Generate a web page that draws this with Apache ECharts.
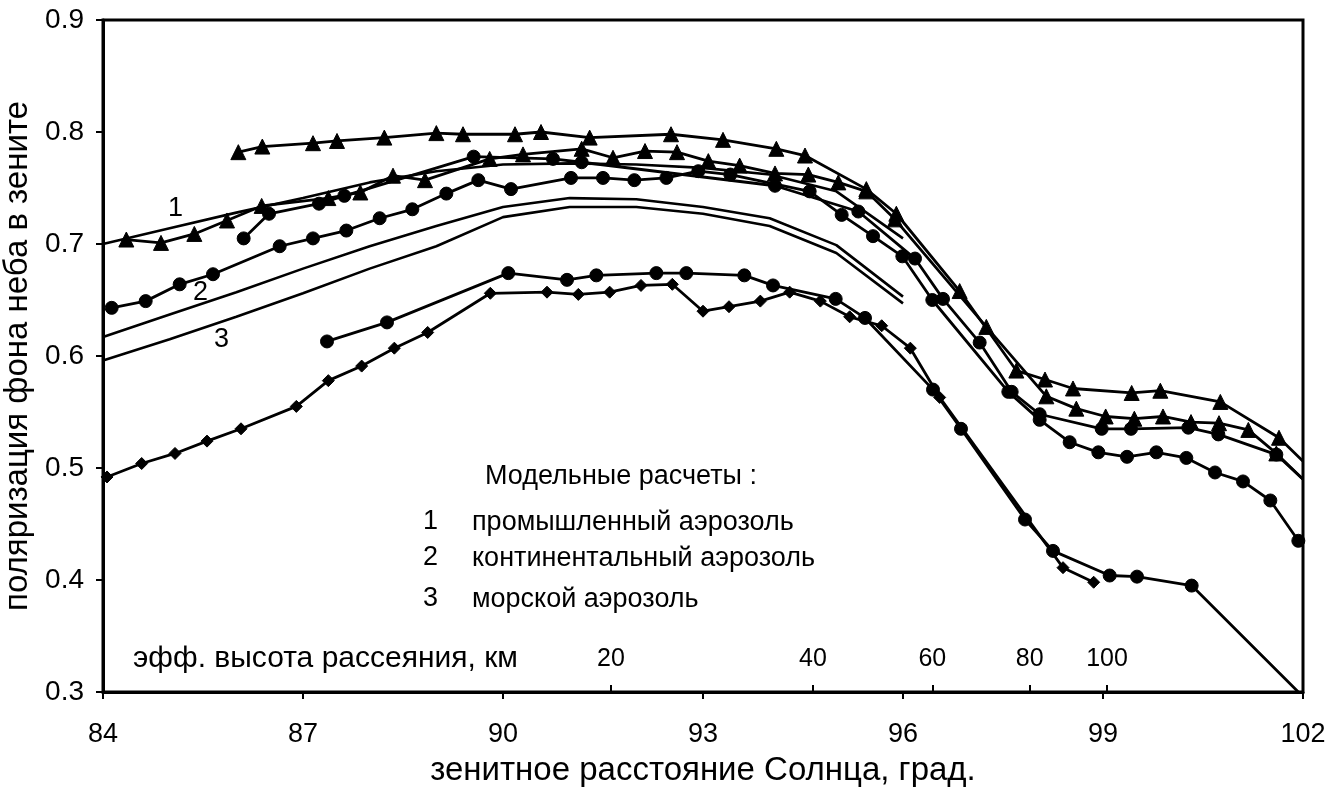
<!DOCTYPE html>
<html>
<head>
<meta charset="utf-8">
<script src="https://cdn.jsdelivr.net/npm/echarts@6/dist/echarts.min.js"></script>
<style>
  html, body { margin: 0; padding: 0; background: #fff; }
  #chart { width: 1344px; height: 787px; }
</style>
</head>
<body>
<div id="chart"></div>
<script>
// triangles, upper row
var t1X = [86.03, 86.39, 87.15, 87.51, 88.22, 89.0, 89.4, 90.18, 90.57, 91.3, 92.52, 93.3, 94.1, 94.53, 95.45, 95.9, 96.85, 97.7, 98.13, 98.55, 99.43, 99.86, 100.76, 101.64, 102];
var t1Y = [0.782, 0.787, 0.790, 0.792, 0.795, 0.799, 0.798, 0.798, 0.800, 0.795, 0.798, 0.793, 0.785, 0.779, 0.749, 0.727, 0.658, 0.587, 0.579, 0.571, 0.567, 0.569, 0.559, 0.527, 0.506];
// triangles, lower row
var t2X = [84.35, 84.87, 85.37, 85.86, 86.38, 87.38, 87.86, 88.35, 88.83, 89.8, 90.3, 91.18, 91.65, 92.13, 92.61, 93.08, 93.55, 94.08, 94.58, 95.03, 95.45, 95.88, 97.25, 98.15, 98.6, 99.04, 99.47, 99.9, 100.32, 100.74, 101.18, 101.6, 102];
var t2Y = [0.704, 0.701, 0.709, 0.721, 0.734, 0.741, 0.746, 0.761, 0.757, 0.776, 0.780, 0.785, 0.777, 0.783, 0.782, 0.774, 0.770, 0.763, 0.762, 0.755, 0.747, 0.722, 0.626, 0.564, 0.553, 0.546, 0.544, 0.546, 0.541, 0.540, 0.534, 0.513, 0.490];
// circles
var c1X = [86.11, 86.49, 87.24, 87.62, 89.56, 90.75, 91.18, 94.08, 95.33, 96.18, 96.6, 97.15, 97.63, 98.05, 98.98, 99.42, 100.28, 100.73, 101.6, 102];
var c1Y = [0.705, 0.727, 0.736, 0.743, 0.778, 0.776, 0.773, 0.752, 0.729, 0.687, 0.651, 0.612, 0.568, 0.548, 0.535, 0.535, 0.536, 0.530, 0.512, 0.490];
var c2X = [84.13, 84.64, 85.15, 85.65, 86.65, 87.15, 87.65, 88.15, 88.64, 89.15, 89.63, 90.12, 91.02, 91.5, 91.97, 92.45, 92.93, 93.41, 94.6, 95.08, 95.55, 95.99, 96.44, 97.58, 98.05, 98.5, 98.93, 99.36, 99.8, 100.25, 100.68, 101.1, 101.51, 101.93];
var c2Y = [0.643, 0.649, 0.664, 0.673, 0.698, 0.705, 0.712, 0.723, 0.731, 0.745, 0.757, 0.749, 0.759, 0.759, 0.757, 0.759, 0.765, 0.762, 0.747, 0.726, 0.707, 0.689, 0.650, 0.568, 0.543, 0.523, 0.514, 0.510, 0.514, 0.509, 0.496, 0.488, 0.471, 0.435];
var c3X = [87.36, 88.26, 90.08, 90.96, 91.4, 92.3, 92.75, 93.62, 94.05, 94.99, 95.43, 96.45, 96.87, 97.83, 98.25, 99.1, 99.51, 100.33, 101.93];
var c3Y = [0.613, 0.630, 0.674, 0.668, 0.672, 0.674, 0.674, 0.672, 0.663, 0.651, 0.634, 0.570, 0.535, 0.454, 0.426, 0.404, 0.403, 0.395, 0.300];
// diamonds
var dX = [84.06, 84.58, 85.08, 85.56, 86.07, 86.9, 87.38, 87.88, 88.37, 88.87, 89.81, 90.66, 91.13, 91.6, 92.07, 92.54, 93.0, 93.39, 93.86, 94.3, 94.76, 95.2, 95.68, 96.11, 96.55, 98.4, 98.86];
var dY = [0.492, 0.504, 0.513, 0.524, 0.535, 0.555, 0.578, 0.591, 0.607, 0.621, 0.656, 0.657, 0.655, 0.657, 0.663, 0.664, 0.640, 0.644, 0.649, 0.657, 0.649, 0.635, 0.627, 0.607, 0.563, 0.411, 0.398];
// model curves 1, 2, 3
var modelX = [84, 85, 86, 87, 88, 89, 90, 91, 92, 93, 94, 95, 96];
var model1 = [0.700, 0.714, 0.728, 0.741, 0.755, 0.765, 0.771, 0.772, 0.771, 0.768, 0.762, 0.747, 0.705];
var model2 = [0.617, 0.637, 0.657, 0.678, 0.698, 0.716, 0.733, 0.741, 0.740, 0.733, 0.723, 0.699, 0.653];
var model3 = [0.596, 0.615, 0.635, 0.656, 0.678, 0.698, 0.724, 0.733, 0.733, 0.727, 0.716, 0.692, 0.647];
// effective scattering height scale
var heightPos = [91.62, 94.65, 96.44, 97.9, 99.06];
var heightLabels = ["20", "40", "60", "80", "100"];

var FONT = "Liberation Sans, Arial, sans-serif";

// last point of some rows runs to the frame without a marker
function pts(xs, ys, openEnd) {
  var out = [];
  for (var i = 0; i < xs.length; i++) {
    if (openEnd && i == xs.length - 1) {
      out.push({ value: [xs[i], ys[i]], symbol: "none" });
    } else {
      out.push([xs[i], ys[i]]);
    }
  }
  return out;
}

function dataSeries(name, xs, ys, symbol, size, openEnd) {
  return {
    name: name,
    type: "line",
    data: pts(xs, ys, openEnd),
    symbol: symbol,
    symbolSize: size,
    showSymbol: true,
    lineStyle: { color: "#000", width: 2.8 },
    itemStyle: { color: "#000", borderColor: "#000" },
    animation: false
  };
}

function modelSeries(name, ys) {
  return {
    name: name,
    type: "line",
    data: pts(modelX, ys, false),
    symbol: "none",
    lineStyle: { color: "#000", width: 2.6 },
    animation: false
  };
}

function nearestHeight(v) {
  var best = 0;
  for (var i = 1; i < heightPos.length; i++) {
    if (Math.abs(heightPos[i] - v) < Math.abs(heightPos[best] - v)) best = i;
  }
  return heightLabels[best];
}

function label(text, x, y, size) {
  return {
    type: "text",
    left: x,
    top: y,
    style: { text: text, fontSize: size, fontFamily: FONT, fill: "#000" }
  };
}

var chart = echarts.init(document.getElementById("chart"));

var option = {
  backgroundColor: "#fff",
  grid: {
    left: 103,
    right: 41,
    top: 20,
    bottom: 95,
    containLabel: false,
    outerBoundsMode: "none",
    show: true,
    borderColor: "#000",
    borderWidth: 3
  },
  xAxis: [
    {
      type: "value",
      min: 84,
      max: 102,
      interval: 3,
      splitLine: { show: false },
      axisLine: { lineStyle: { color: "#000", width: 3 } },
      axisTick: { length: 7, lineStyle: { color: "#000", width: 2 } },
      axisLabel: { color: "#000", fontSize: 27, fontFamily: FONT, margin: 29 },
      name: "зенитное расстояние Солнца, град.",
      nameLocation: "middle",
      nameGap: 62,
      nameTextStyle: { color: "#000", fontSize: 33, fontFamily: FONT }
    },
    {
      type: "value",
      min: 84,
      max: 102,
      position: "bottom",
      splitLine: { show: false },
      axisLine: { show: false },
      axisTick: {
        inside: true,
        length: 7,
        customValues: heightPos,
        lineStyle: { color: "#000", width: 2 }
      },
      axisLabel: {
        inside: true,
        customValues: heightPos,
        color: "#000",
        fontSize: 25,
        fontFamily: FONT,
        margin: 20,
        formatter: function (v) { return nearestHeight(v); }
      }
    }
  ],
  yAxis: {
    type: "value",
    min: 0.3,
    max: 0.9,
    interval: 0.1,
    splitLine: { show: false },
    axisLine: { lineStyle: { color: "#000", width: 3 } },
    axisTick: { length: 7, lineStyle: { color: "#000", width: 2 } },
    axisLabel: {
      color: "#000",
      fontSize: 28,
      fontFamily: FONT,
      margin: 19,
      formatter: function (v) { return v.toFixed(1); }
    },
    name: "поляризация фона неба в зените",
    nameLocation: "middle",
    nameGap: 58,
    nameTextStyle: { color: "#000", fontSize: 33, fontFamily: FONT }
  },
  graphic: [
    label("1", 168, 195, 27),
    label("2", 193, 279, 27),
    label("3", 214, 326, 27),
    label("Модельные расчеты :", 485, 463, 27),
    label("1", 423, 508, 27),
    label("промышленный аэрозоль", 472, 509, 27),
    label("2", 423, 544, 27),
    label("континентальный аэрозоль", 472, 545, 27),
    label("3", 423, 585, 27),
    label("морской аэрозоль", 472, 586, 27),
    label("эфф. высота рассеяния, км", 133, 644, 30)
  ],
  series: [
    modelSeries("модель 1", model1),
    modelSeries("модель 2", model2),
    modelSeries("модель 3", model3),
    dataSeries("T1", t1X, t1Y, "triangle", 15, true),
    dataSeries("T2", t2X, t2Y, "triangle", 15, true),
    dataSeries("C1", c1X, c1Y, "circle", 13, true),
    dataSeries("C2", c2X, c2Y, "circle", 13, false),
    dataSeries("C3", c3X, c3Y, "circle", 13, true),
    dataSeries("D", dX, dY, "diamond", 12, false)
  ]
};

chart.setOption(option);
</script>
</body>
</html>
